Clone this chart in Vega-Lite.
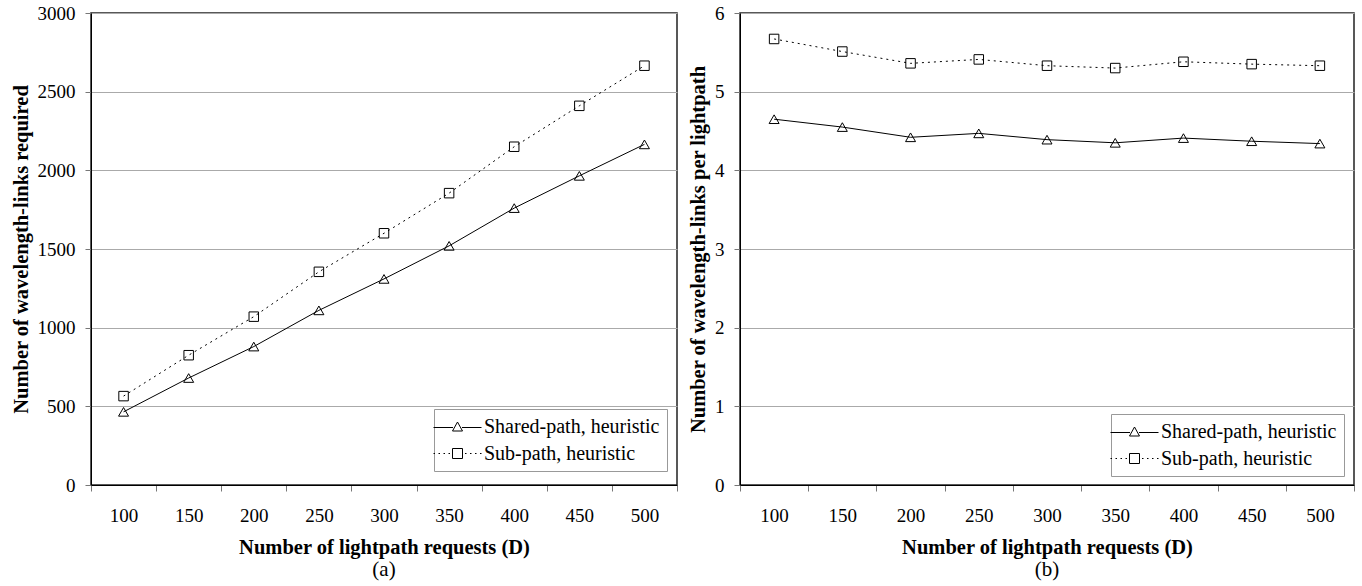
{
  "$schema": "https://vega.github.io/schema/vega-lite/v6.json",
  "padding": {"left": 10, "top": 3, "right": 4, "bottom": 0},
  "background": "white",
  "spacing": 8,
  "datasets": {
    "d": [
      {"D": 100, "series": "Shared-path, heuristic", "links": 465, "perLP": 4.65},
      {"D": 150, "series": "Shared-path, heuristic", "links": 680, "perLP": 4.55},
      {"D": 200, "series": "Shared-path, heuristic", "links": 880, "perLP": 4.42},
      {"D": 250, "series": "Shared-path, heuristic", "links": 1110, "perLP": 4.47},
      {"D": 300, "series": "Shared-path, heuristic", "links": 1310, "perLP": 4.39},
      {"D": 350, "series": "Shared-path, heuristic", "links": 1520, "perLP": 4.35},
      {"D": 400, "series": "Shared-path, heuristic", "links": 1760, "perLP": 4.41},
      {"D": 450, "series": "Shared-path, heuristic", "links": 1965, "perLP": 4.37},
      {"D": 500, "series": "Shared-path, heuristic", "links": 2165, "perLP": 4.34},
      {"D": 100, "series": "Sub-path, heuristic", "links": 565, "perLP": 5.67},
      {"D": 150, "series": "Sub-path, heuristic", "links": 825, "perLP": 5.51},
      {"D": 200, "series": "Sub-path, heuristic", "links": 1070, "perLP": 5.36},
      {"D": 250, "series": "Sub-path, heuristic", "links": 1355, "perLP": 5.41},
      {"D": 300, "series": "Sub-path, heuristic", "links": 1600, "perLP": 5.33},
      {"D": 350, "series": "Sub-path, heuristic", "links": 1855, "perLP": 5.30},
      {"D": 400, "series": "Sub-path, heuristic", "links": 2150, "perLP": 5.38},
      {"D": 450, "series": "Sub-path, heuristic", "links": 2410, "perLP": 5.35},
      {"D": 500, "series": "Sub-path, heuristic", "links": 2665, "perLP": 5.33}
    ]
  },
  "config": {
    "font": "Liberation Serif",
    "view": {"stroke": "#222", "strokeWidth": 1.5},
    "axis": {
      "labelFont": "Liberation Serif",
      "labelFontSize": 19,
      "labelColor": "black",
      "titleFont": "Liberation Serif",
      "titleFontSize": 20.5,
      "titleFontWeight": "bold",
      "titleColor": "black",
      "domainColor": "black",
      "tickColor": "#777",
      "tickSize": 6,
      "gridColor": "#aaa",
      "gridWidth": 1
    },
    "axisX": {"labelAngle": 0, "labelPadding": 15, "titlePadding": 12, "grid": false, "tickBand": "extent"},
    "axisY": {"labelPadding": 10, "titlePadding": 6, "grid": true, "format": "d"},
    "title": {"font": "Liberation Serif", "fontSize": 21, "fontWeight": "normal", "color": "black", "orient": "bottom", "offset": 1, "frame": "group"},
    "legend": {
      "orient": "none",
      "labelFont": "Liberation Serif",
      "labelFontSize": 20,
      "labelColor": "black",
      "labelLimit": 400,
      "symbolSize": 400,
      "symbolStrokeColor": "black",
      "symbolFillColor": "transparent",
      "symbolStrokeWidth": 1,
      "symbolOpacity": 1,
      "strokeColor": "#999",
      "fillColor": "white",
      "padding": 7,
      "symbolOffset": 6,
      "labelOffset": 16,
      "rowPadding": 6
    }
  },
  "hconcat": [
    {
      "width": 586,
      "height": 472,
      "title": {"text": "(a)"},
      "data": {"name": "d"},
      "encoding": {
        "x": {"field": "D", "type": "ordinal", "scale": {"type": "band", "paddingInner": 0, "paddingOuter": 0}, "title": "Number of lightpath requests (D)"},
        "y": {"field": "links", "type": "quantitative", "scale": {"domain": [0, 3000]}, "axis": {"values": [0, 500, 1000, 1500, 2000, 2500, 3000]}, "title": "Number of wavelength-links required"}
      },
      "layer": [
        {
          "transform": [{"filter": "datum.series === 'Shared-path, heuristic'"}],
          "mark": {"type": "line", "color": "black", "strokeWidth": 1}
        },
        {
          "transform": [{"filter": "datum.series === 'Sub-path, heuristic'"}],
          "mark": {"type": "line", "color": "black", "strokeWidth": 1, "strokeDash": [2, 4]}
        },
        {
          "transform": [{"filter": "datum.series === 'Shared-path, heuristic'"}],
          "mark": {"type": "point", "shape": "triangle-up", "filled": false, "color": "black", "strokeWidth": 1, "size": 100, "opacity": 1}
        },
        {
          "transform": [{"filter": "datum.series === 'Sub-path, heuristic'"}],
          "mark": {"type": "point", "shape": "square", "filled": false, "color": "black", "strokeWidth": 1, "size": 90, "opacity": 1}
        },
        {
          "mark": {"type": "point", "filled": false, "color": "black", "strokeWidth": 1, "opacity": 0},
          "encoding": {
            "shape": {
              "field": "series", "type": "nominal",
              "scale": {"domain": ["Shared-path, heuristic", "Sub-path, heuristic"], "range": ["M-2.4,0.1H-0.45M0.45,0.1H2.4M0,-0.45L0.5,0.45L-0.5,0.45Z", "M-2.4,0H-2.25M-1.9,0H-1.75M-1.4,0H-1.25M-0.9,0H-0.75M-0.5,-0.5H0.5V0.5H-0.5ZM0.75,0H0.9M1.25,0H1.4M1.75,0H1.9M2.25,0H2.4"]},
              "legend": {"title": null, "labelFont": "Liberation Serif", "legendX": 343, "legendY": 396}
            }
          }
        }
      ]
    },
    {
      "width": 614,
      "height": 472,
      "title": {"text": "(b)"},
      "data": {"name": "d"},
      "encoding": {
        "x": {"field": "D", "type": "ordinal", "scale": {"type": "band", "paddingInner": 0, "paddingOuter": 0}, "title": "Number of lightpath requests (D)"},
        "y": {"field": "perLP", "type": "quantitative", "scale": {"domain": [0, 6]}, "axis": {"values": [0, 1, 2, 3, 4, 5, 6]}, "title": "Number of wavelength-links per lightpath"}
      },
      "layer": [
        {
          "transform": [{"filter": "datum.series === 'Shared-path, heuristic'"}],
          "mark": {"type": "line", "color": "black", "strokeWidth": 1}
        },
        {
          "transform": [{"filter": "datum.series === 'Sub-path, heuristic'"}],
          "mark": {"type": "line", "color": "black", "strokeWidth": 1, "strokeDash": [2, 4]}
        },
        {
          "transform": [{"filter": "datum.series === 'Shared-path, heuristic'"}],
          "mark": {"type": "point", "shape": "triangle-up", "filled": false, "color": "black", "strokeWidth": 1, "size": 100, "opacity": 1}
        },
        {
          "transform": [{"filter": "datum.series === 'Sub-path, heuristic'"}],
          "mark": {"type": "point", "shape": "square", "filled": false, "color": "black", "strokeWidth": 1, "size": 90, "opacity": 1}
        },
        {
          "mark": {"type": "point", "filled": false, "color": "black", "strokeWidth": 1, "opacity": 0},
          "encoding": {
            "shape": {
              "field": "series", "type": "nominal",
              "scale": {"domain": ["Shared-path, heuristic", "Sub-path, heuristic"], "range": ["M-2.4,0.1H-0.45M0.45,0.1H2.4M0,-0.45L0.5,0.45L-0.5,0.45Z", "M-2.4,0H-2.25M-1.9,0H-1.75M-1.4,0H-1.25M-0.9,0H-0.75M-0.5,-0.5H0.5V0.5H-0.5ZM0.75,0H0.9M1.25,0H1.4M1.75,0H1.9M2.25,0H2.4"]},
              "legend": {"title": null, "labelFont": "Liberation Serif", "legendX": 371, "legendY": 401}
            }
          }
        }
      ]
    }
  ],
  "resolve": {"scale": {"shape": "independent", "y": "independent"}, "legend": {"shape": "independent"}}
}
